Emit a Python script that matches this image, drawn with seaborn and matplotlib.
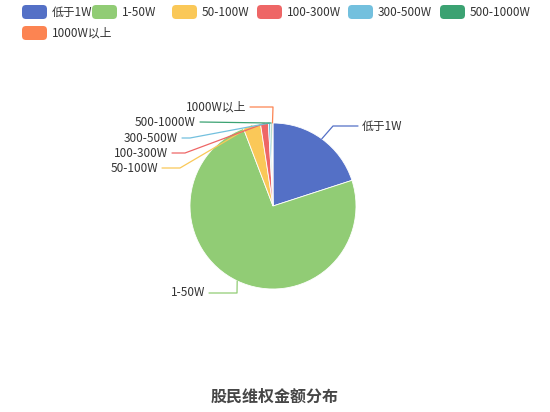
import numpy as np
import matplotlib
matplotlib.use("Agg")
import matplotlib.pyplot as plt
from matplotlib.patches import FancyBboxPatch
import seaborn as sns

sns.set_theme(style="white")
plt.rcParams['font.family'] = ['Noto Sans CJK SC', 'DejaVu Sans']

# data
labels = ['低于1W', '1-50W', '50-100W', '100-300W', '300-500W', '500-1000W', '1000W以上']
values = [20.0, 74.2, 3.4, 1.5, 0.4, 0.3, 0.2]
colors = ['#5470c6', '#91cc75', '#fac858', '#ee6666', '#73c0de', '#3ba272', '#fc8452']
title = '股民维权金额分布'

H = 412
fig = plt.figure(figsize=(5.5, 4.12), dpi=100)
ax = fig.add_axes([0, 0, 1, 1])

cx, cy, r = 273, 206, 83
wedges, _ = ax.pie(values, colors=colors, radius=r, center=(cx, H - cy),
                   startangle=90, counterclock=False,
                   wedgeprops=dict(linewidth=0.6, edgecolor='white'))
ax.set_xlim(0, 550)
ax.set_ylim(0, H)
ax.set_aspect('equal')
ax.axis('off')

# label layout: (elbow x, elbow y, text x, ha) in pixels
layout = [
    (333, 126, 362, 'left'),
    (237, 293, 205, 'right'),
    (180, 168, 158, 'right'),
    (185, 153, 168, 'right'),
    (190, 138, 178, 'right'),
    (200, 122, 196, 'right'),
    (273, 107, 246, 'right'),
]
for w, lab, col, (ex, ey, tx, ha) in zip(wedges, labels, colors, layout):
    ang = np.deg2rad((w.theta1 + w.theta2) / 2)
    px = cx + r * np.cos(ang)
    py = cy - r * np.sin(ang)
    end = tx - 4 if ha == 'left' else tx + 4
    xs = [px, ex, end]
    ys = [H - py, H - ey, H - ey]
    ax.plot(xs, ys, color=col, lw=0.9)
    ax.text(tx, H - ey, lab, ha=ha, va='center', fontsize=8.5, color='#333333')

# legend
legend_pos = [(22, 12), (92, 12), (172, 12), (257, 12), (348, 12), (440, 12), (22, 33)]
for (lx, ly), lab, col in zip(legend_pos, labels, colors):
    ax.add_patch(FancyBboxPatch((lx, H - ly - 7), 25, 14,
                                boxstyle='round,pad=0,rounding_size=4',
                                facecolor=col, edgecolor='none'))
    ax.text(lx + 30, H - ly, lab, ha='left', va='center', fontsize=8.5, color='#333333')

ax.text(275, H - 397, title, ha='center', va='center', fontsize=11.5,
        fontweight='bold', color='#464646')

fig.savefig('out.png', dpi=100)
